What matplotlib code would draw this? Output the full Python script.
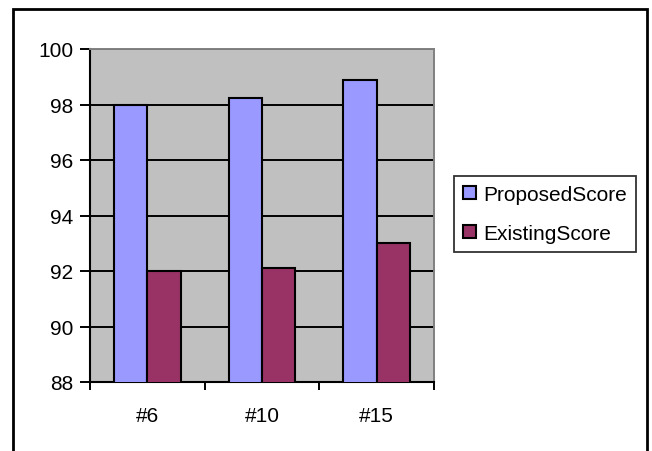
import matplotlib
matplotlib.use("Agg")
import matplotlib.pyplot as plt
from matplotlib.patches import Rectangle
import numpy as np

# chart values
categories = ["#6", "#10", "#15"]
proposed_score = [98.0, 98.25, 98.9]
existing_score = [92.0, 92.1, 93.0]
y_ticks = [88, 90, 92, 94, 96, 98, 100]

plt.rcParams["font.family"] = ["Liberation Sans", "DejaVu Sans"]

W, H = 652, 452
fig = plt.figure(figsize=(W / 100, H / 100), dpi=100)
fig.patch.set_facecolor("white")

# plot area in pixel coords: x 90..434, y 50..383
ax = fig.add_axes([90 / W, 1 - 383 / H, (434 - 90) / W, (383 - 50) / H])
ax.set_facecolor("#C0C0C0")

x = np.arange(len(categories))
bw = 0.29
ax.bar(x - bw / 2, proposed_score, bw, bottom=0, color="#9999FF",
       edgecolor="black", linewidth=1.5, label="ProposedScore", zorder=3)
ax.bar(x + bw / 2, existing_score, bw, bottom=0, color="#993366",
       edgecolor="black", linewidth=1.5, label="ExistingScore", zorder=3)

ax.set_ylim(88, 100)
ax.set_xlim(-0.5, len(categories) - 0.5)
ax.set_yticks(y_ticks)
ax.set_yticklabels([str(v) for v in y_ticks], fontsize=15)
ax.yaxis.grid(True, color="black", linewidth=1.4, zorder=1)
ax.set_axisbelow(True)

ax.set_xticks(x)
ax.set_xticklabels(categories, fontsize=15)
ax.set_xticks(np.arange(len(categories) + 1) - 0.5, minor=True)
ax.tick_params(axis="x", which="major", length=0, pad=17)
ax.tick_params(axis="x", which="minor", length=6, width=1.4, direction="out")
ax.tick_params(axis="y", length=7, width=1.4, direction="out", pad=5)

for side in ["top", "right"]:
    ax.spines[side].set_color("#808080")
    ax.spines[side].set_linewidth(1.4)
for side in ["left", "bottom"]:
    ax.spines[side].set_color("black")
    ax.spines[side].set_linewidth(1.5)

leg = fig.legend(loc="center left", bbox_to_anchor=(454 / W, 1 - 215 / H),
                 fontsize=15, frameon=True, fancybox=False, edgecolor="black",
                 handlelength=0.6, handleheight=0.6, handletextpad=0.35,
                 labelspacing=0.95, borderpad=0.45, borderaxespad=0)
leg.get_frame().set_linewidth(1.3)

# outer chart border (bottom edge runs off the image)
fig.patches.append(Rectangle((13 / W, -0.05), (647 - 13) / W, 1.05 - 10 / H,
                             transform=fig.transFigure, fill=False,
                             edgecolor="black", linewidth=2, clip_on=False))

fig.savefig("out.png", dpi=100)
